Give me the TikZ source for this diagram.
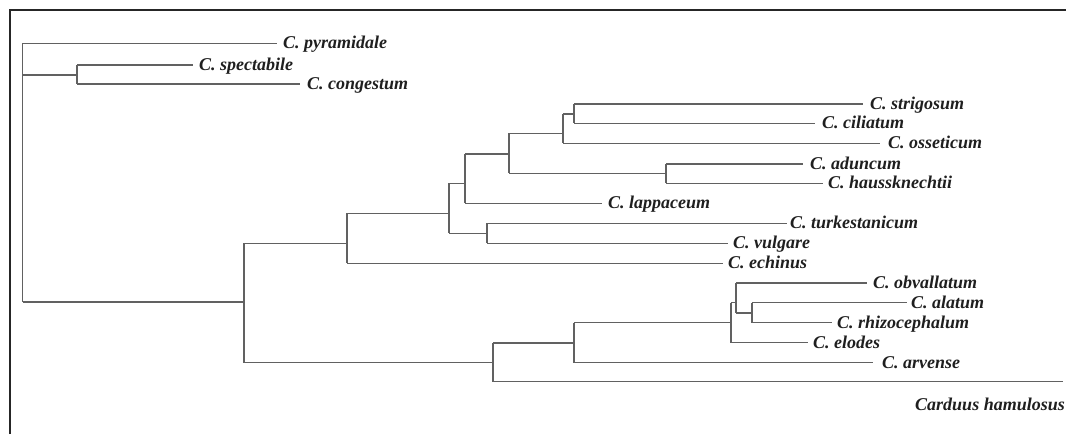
\documentclass[tikz,border=0pt]{standalone}
\usepackage{fontspec}
\setmainfont{Liberation Serif}
\tikzset{
  branch/.style={draw=black!62, line width=1.2pt},
  taxon/.style={anchor=base west, inner sep=0pt, font=\fontsize{18}{20}\selectfont\bfseries\itshape, text=black!88},
  outtaxon/.style={taxon, anchor=base east},
  frameline/.style={draw=black!85, line width=2pt}
}
\begin{document}
\begin{tikzpicture}[x=1pt,y=-1pt]
\useasboundingbox (0,0) rectangle (1066,434);
% frame
\coordinate (fb) at (10,434);
\coordinate (fc) at (10,10);
\coordinate (fr) at (1066,10);
\draw[frameline] (fb) -- (fc) -- (fr);
% internal nodes (x of the vertical bar, y where it attaches to its parent)
\coordinate (R) at (22.7,172);
\coordinate (T) at (77,75);
\coordinate (A) at (244,302);
\coordinate (B) at (347,243.3);
\coordinate (C) at (449,213.3);
\coordinate (F) at (465,183.3);
\coordinate (E) at (509,154);
\coordinate (D2) at (563,133.3);
\coordinate (D1) at (574,114);
\coordinate (D3) at (666,173.3);
\coordinate (G) at (487,233.3);
\coordinate (M) at (493,362.7);
\coordinate (H) at (574,343);
\coordinate (J) at (731,322.5);
\coordinate (K) at (736,302.5);
\coordinate (L) at (752,313);
% leaf tips
\coordinate (pyr) at (276.7,43.3);
\coordinate (spe) at (193,65);
\coordinate (con) at (300,84);
\coordinate (str) at (863,104);
\coordinate (cil) at (815,123.3);
\coordinate (oss) at (880,143.3);
\coordinate (adu) at (803,164);
\coordinate (hau) at (823,183.3);
\coordinate (lap) at (602,203.3);
\coordinate (tur) at (787,223.3);
\coordinate (vul) at (728,243.3);
\coordinate (ech) at (723,263.3);
\coordinate (obv) at (867,283);
\coordinate (ala) at (907,302.5);
\coordinate (rhi) at (832,322.5);
\coordinate (elo) at (808,342.5);
\coordinate (arv) at (873,362.7);
\coordinate (car) at (1063,381.7);
% labels
\node[taxon] (lpyr) at (283,48.8) {C. pyramidale};
\node[taxon] (lspe) at (199,70.5) {C. spectabile};
\node[taxon] (lcon) at (307,89.5) {C. congestum};
\node[taxon] (lstr) at (870,109.5) {C. strigosum};
\node[taxon] (lcil) at (822,128.8) {C. ciliatum};
\node[taxon] (loss) at (888,148.8) {C. osseticum};
\node[taxon] (ladu) at (810,169.5) {C. aduncum};
\node[taxon] (lhau) at (828,188.8) {C. haussknechtii};
\node[taxon] (llap) at (608,208.8) {C. lappaceum};
\node[taxon] (ltur) at (790,228.8) {C. turkestanicum};
\node[taxon] (lvul) at (733,248.8) {C. vulgare};
\node[taxon] (lech) at (728,268.8) {C. echinus};
\node[taxon] (lobv) at (873,288.5) {C. obvallatum};
\node[taxon] (lala) at (911,308) {C. alatum};
\node[taxon] (lrhi) at (837,328) {C. rhizocephalum};
\node[taxon] (lelo) at (813,348) {C. elodes};
\node[taxon] (larv) at (882,368.2) {C. arvense};
\node[outtaxon] (lcar) at (1065,410) {Carduus hamulosus};
% vertical bars
\draw[branch] (R |- pyr) -- (R |- A);
\draw[branch] (T |- spe) -- (T |- con);
\draw[branch] (A |- B) -- (A |- M);
\draw[branch] (B |- C) -- (B |- ech);
\draw[branch] (C |- F) -- (C |- G);
\draw[branch] (F |- E) -- (F |- lap);
\draw[branch] (E |- D2) -- (E |- D3);
\draw[branch] (D2 |- D1) -- (D2 |- oss);
\draw[branch] (D1 |- str) -- (D1 |- cil);
\draw[branch] (D3 |- adu) -- (D3 |- hau);
\draw[branch] (G |- tur) -- (G |- vul);
\draw[branch] (M |- H) -- (M |- car);
\draw[branch] (H |- J) -- (H |- arv);
\draw[branch] (J |- K) -- (J |- elo);
\draw[branch] (K |- obv) -- (K |- L);
\draw[branch] (L |- ala) -- (L |- rhi);
% horizontal branches
\draw[branch] (R |- pyr) -- (pyr);
\draw[branch] (R |- T) -- (T);
\draw[branch] (R |- A) -- (A);
\draw[branch] (T |- spe) -- (spe);
\draw[branch] (T |- con) -- (con);
\draw[branch] (A |- B) -- (B);
\draw[branch] (A |- M) -- (M);
\draw[branch] (B |- C) -- (C);
\draw[branch] (B |- ech) -- (ech);
\draw[branch] (C |- F) -- (F);
\draw[branch] (C |- G) -- (G);
\draw[branch] (F |- E) -- (E);
\draw[branch] (F |- lap) -- (lap);
\draw[branch] (E |- D2) -- (D2);
\draw[branch] (E |- D3) -- (D3);
\draw[branch] (D2 |- D1) -- (D1);
\draw[branch] (D2 |- oss) -- (oss);
\draw[branch] (D1 |- str) -- (str);
\draw[branch] (D1 |- cil) -- (cil);
\draw[branch] (D3 |- adu) -- (adu);
\draw[branch] (D3 |- hau) -- (hau);
\draw[branch] (G |- tur) -- (tur);
\draw[branch] (G |- vul) -- (vul);
\draw[branch] (M |- H) -- (H);
\draw[branch] (M |- car) -- (car);
\draw[branch] (H |- J) -- (J);
\draw[branch] (H |- arv) -- (arv);
\draw[branch] (J |- K) -- (K);
\draw[branch] (J |- elo) -- (elo);
\draw[branch] (K |- obv) -- (obv);
\draw[branch] (K |- L) -- (L);
\draw[branch] (L |- ala) -- (ala);
\draw[branch] (L |- rhi) -- (rhi);
\end{tikzpicture}
\end{document}
